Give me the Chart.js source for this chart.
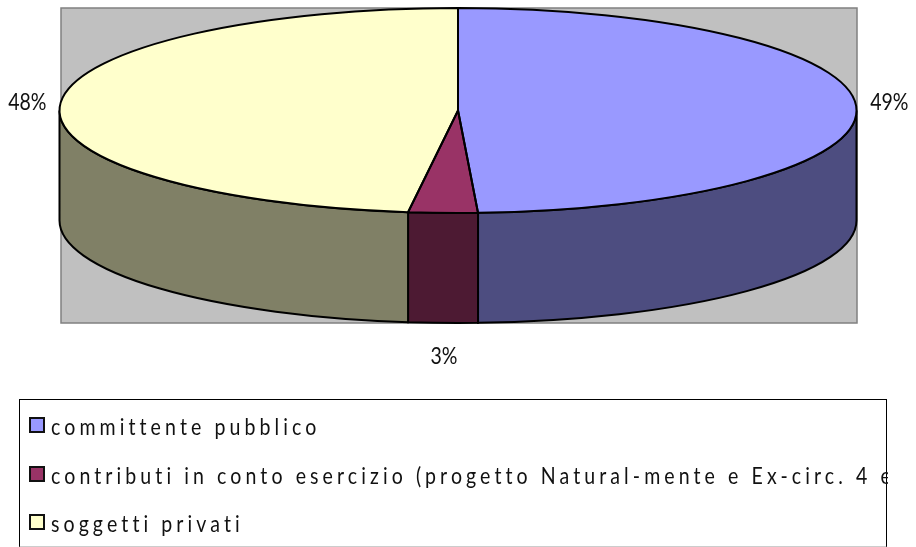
<!DOCTYPE html>
<html>
<head>
<meta charset="utf-8">
<script src="https://cdn.jsdelivr.net/npm/chart.js@4"></script>
<style>
  html, body { margin: 0; padding: 0; background: #fff; overflow: hidden; }
  #wrap { position: relative; width: 916px; height: 547px; }
  #legendBox {
    position: absolute; left: 19px; top: 399px; width: 866px; height: 146px;
    border: 1.5px solid #000; border-bottom: 2px solid #ccc; box-sizing: content-box;
  }
  #legend {
    position: absolute; left: 20px; top: 400px; width: 868px; height: 146px; overflow: hidden;
    font: 23px Lato, "Open Sans", sans-serif; letter-spacing: 4.8px;
    color: #111; white-space: nowrap;
  }
  #legend i {
    position: absolute; left: 9px; width: 12px; height: 12px; border: 2px solid #111;
  }
  #legend span {
    position: absolute; left: 31px; transform: scaleX(0.85); transform-origin: left center;
    line-height: 26px;
  }
</style>
</head>
<body>
<div id="wrap">
  <canvas id="chart1" width="916" height="547"></canvas>
  <div id="legendBox"></div>
  <div id="legend"></div>
</div>
<script>
const categories = ["committente pubblico", "contributi in conto esercizio (progetto Natural-mente e Ex-circ. 4 ed altri)", "soggetti privati"];
const values = [49.2, 2.8, 48];
const topColors = ['#9999FF', '#993366', '#FFFFCC'];
const sideColors = ['#4D4D80', '#4D1A33', '#808066'];

// the pie is drawn as a circle by Chart.js and squashed into this ellipse
const cx = 458, cy = 110.5, rx = 398.5, ry = 102.5, depth = 110;
const labelFont = '23px Lato, "Open Sans", sans-serif';

const pie3d = {
    id: 'pie3d',
    beforeDatasetsDraw(chart) {
        const ctx = chart.ctx;
        // grey plot area
        ctx.fillStyle = '#C0C0C0';
        ctx.strokeStyle = '#808080';
        ctx.lineWidth = 1.5;
        ctx.fillRect(61, 8, 796, 315);
        ctx.strokeRect(61, 8, 796, 315);

        // side wall, only the front half (sin > 0) is visible
        chart.getDatasetMeta(0).data.forEach(function (arc, i) {
            const a0 = Math.max(arc.startAngle, 0);
            const a1 = Math.min(arc.endAngle, Math.PI);
            if (a1 <= a0) return;
            ctx.beginPath();
            ctx.ellipse(cx, cy, rx, ry, 0, a0, a1);
            ctx.ellipse(cx, cy + depth, rx, ry, 0, a1, a0, true);
            ctx.closePath();
            ctx.fillStyle = sideColors[i];
            ctx.fill();
            ctx.lineWidth = 2;
            ctx.strokeStyle = '#000';
            ctx.stroke();
        });

        const first = chart.getDatasetMeta(0).data[0];
        ctx.save();
        ctx.translate(cx, cy);
        ctx.scale(rx / first.outerRadius, ry / first.outerRadius);
        ctx.translate(-first.x, -first.y);
    },
    afterDatasetsDraw(chart) {
        const ctx = chart.ctx;
        ctx.restore();
        const total = values.reduce(function (a, b) { return a + b; }, 0);
        chart.getDatasetMeta(0).data.forEach(function (arc, i) {
            // outline of the top face, done here so the squash does not thin it
            ctx.beginPath();
            ctx.moveTo(cx, cy);
            ctx.ellipse(cx, cy, rx, ry, 0, arc.startAngle, arc.endAngle);
            ctx.closePath();
            ctx.lineWidth = 2;
            ctx.strokeStyle = '#000';
            ctx.stroke();

            const mid = (arc.startAngle + arc.endAngle) / 2;
            const front = Math.sin(mid) > 0.5;
            ctx.save();
            ctx.translate(cx + (rx + (front ? 0 : 33)) * Math.cos(mid) + (front ? 1 : 0), front ? cy + ry + depth + 34 : 103);
            ctx.scale(0.85, 1);
            ctx.font = labelFont;
            ctx.fillStyle = '#111';
            ctx.textAlign = 'center';
            ctx.textBaseline = 'middle';
            ctx.fillText(Math.round(values[i] / total * 100) + '%', 0, 0);
            ctx.restore();
        });
    }
};

new Chart("chart1", {
    type: "pie",
    plugins: [pie3d],
    data: {
        labels: categories,
        datasets: [{
            data: values,
            backgroundColor: topColors,
            borderWidth: 0
        }]
    },
    options: {
        responsive: false,
        animation: false,
        layout: { padding: { left: 258, right: 258, top: 0, bottom: 147 } },
        plugins: {
            legend: { display: false },
            tooltip: { enabled: false }
        }
    }
});

const legendRows = [25, 74, 122];
document.getElementById('legend').innerHTML = categories.map(function (c, i) {
    return '<i style="top:' + (legendRows[i] - 8) + 'px;background:' + topColors[i] + '"></i>' +
        '<span style="top:' + (legendRows[i] - 12) + 'px">' + c + '</span>';
}).join('');
</script>
</body>
</html>
